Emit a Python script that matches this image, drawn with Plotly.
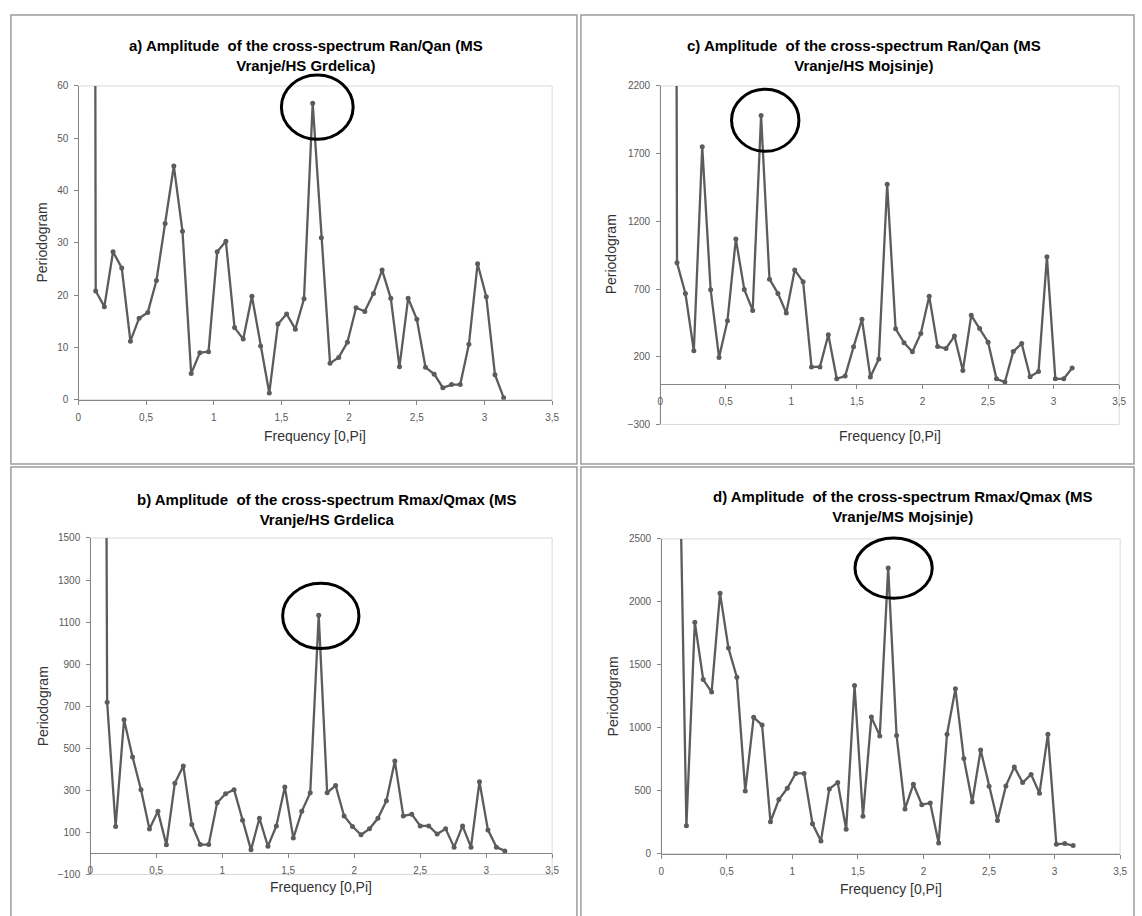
import plotly.graph_objects as go

W, H = 1142, 916

# Frequency grid k*pi/49, k = 1..49
freq = [0.0641, 0.1282, 0.1923, 0.2565, 0.3206, 0.3847, 0.4488, 0.5129, 0.5770, 0.6411,
        0.7053, 0.7694, 0.8335, 0.8976, 0.9617, 1.0258, 1.0899, 1.1541, 1.2182, 1.2823,
        1.3464, 1.4105, 1.4746, 1.5387, 1.6029, 1.6670, 1.7311, 1.7952, 1.8593, 1.9234,
        1.9875, 2.0517, 2.1158, 2.1799, 2.2440, 2.3081, 2.3722, 2.4363, 2.5005, 2.5646,
        2.6287, 2.6928, 2.7569, 2.8210, 2.8851, 2.9493, 3.0134, 3.0775, 3.1416]

x_tick_vals = [0, 0.5, 1, 1.5, 2, 2.5, 3, 3.5]
x_tick_text = ["0", "0,5", "1", "1,5", "2", "2,5", "3", "3,5"]

# a) Ran/Qan  MS Vranje / HS Grdelica   (k = 1..49)
per_a = [1000, 20.8, 17.8, 28.3, 25.2, 11.2, 15.6, 16.7, 22.8, 33.7,
         44.7, 32.2, 5.0, 9.0, 9.2, 28.3, 30.3, 13.8, 11.6, 19.8,
         10.3, 1.3, 14.5, 16.4, 13.5, 19.3, 56.7, 31.0, 7.0, 8.1,
         11.0, 17.6, 16.9, 20.3, 24.8, 19.4, 6.3, 19.4, 15.4, 6.2,
         4.9, 2.3, 2.9, 2.9, 10.6, 26.0, 19.7, 4.8, 0.4]

# b) Rmax/Qmax  MS Vranje / HS Grdelica  (k = 1..49)
per_b = [12000, 719, 128, 636, 459, 303, 116, 200, 41, 334,
         416, 138, 42, 42, 241, 284, 303, 158, 17, 167,
         34, 131, 316, 73, 200, 289, 1133, 289, 323, 178,
         128, 89, 117, 167, 250, 439, 178, 186, 131, 131,
         92, 117, 30, 131, 30, 341, 112, 30, 12]

# c) Ran/Qan  MS Vranje / HS Mojsinje  (k = 1..49)
per_c = [30000, 894, 668, 244, 1751, 695, 195, 465, 1069, 697,
         542, 1982, 773, 668, 523, 841, 753, 125, 125, 363,
         37, 57, 273, 477, 50, 183, 1474, 406, 304, 236,
         372, 647, 275, 261, 353, 98, 506, 409, 307, 37,
         13, 239, 297, 52, 91, 938, 37, 37, 117]

# d) Rmax/Qmax  MS Vranje / MS Mojsinje  (k = 2..49)
per_d = [3900, 222, 1838, 1383, 1284, 2068, 1634, 1402, 499,
         1083, 1022, 254, 431, 520, 638, 638, 238, 102, 515,
         565, 194, 1336, 298, 1085, 936, 2270, 939, 356, 552,
         390, 403, 86, 949, 1310, 756, 411, 824, 536, 264,
         539, 688, 565, 630, 481, 949, 76, 81, 65]

titles = {
    "a": "a) Amplitude\u00a0 of the cross-spectrum Ran/Qan (MS<br>Vranje/HS Grdelica)",
    "b": "b) Amplitude\u00a0 of the cross-spectrum Rmax/Qmax (MS<br>Vranje/HS Grdelica",
    "c": "c) Amplitude\u00a0 of the cross-spectrum Ran/Qan (MS<br>Vranje/HS Mojsinje)",
    "d": "d) Amplitude\u00a0 of the cross-spectrum Rmax/Qmax (MS<br>Vranje/MS Mojsinje)",
}

# highlighted-peak ellipses (data coordinates: x0, x1, y0, y1)
ellipses = {
    "a": [1.50, 2.03, 49.8, 62.1],
    "b": [1.458, 2.036, 974, 1284],
    "c": [0.544, 1.058, 1717, 2176],
    "d": [1.478, 2.067, 2029, 2508],
}

panels = [
    # key, x data, y data, yrange, dtick, plot box px (l, r, t, b), panel box px, title centre, ytitle centre, xtitle centre
    dict(key="a", x=freq, y=per_a, yr=[0, 60], dt=10, box=(76, 554, 81, 399),
         frame=(8, 579, 9, 464), tc=(306, 50), yt=(39, 240), xt=(315, 436)),
    dict(key="c", x=freq, y=per_c, yr=[-300, 2200], dt=500, box=(663, 1126, 81, 424),
         frame=(583, 1141, 9, 464), tc=(869, 50), yt=(613, 252), xt=(895, 436)),
    dict(key="b", x=freq, y=per_b, yr=[-100, 1500], dt=200, box=(88, 554, 539, 880),
         frame=(8, 579, 467, 930), tc=(327, 510), yt=(40, 710), xt=(321, 893)),
    dict(key="d", x=freq[1:], y=per_d, yr=[0, 2500], dt=500, box=(664, 1127, 540, 859),
         frame=(583, 1141, 467, 930), tc=(908, 507), yt=(615, 700), xt=(896, 895)),
]

LINE_COL = "#5c5c5c"
AXIS_COL = "#868686"
TICK_FONT = dict(family="Liberation Sans, Arial", size=10, color="#595959")

fig = go.Figure()
shapes = []
annotations = []


def px_x(px):
    return px / W


def px_y(py):
    return 1 - py / H


for i, p in enumerate(panels, start=1):
    l, r, t, b = p["box"]
    xd = [px_x(l), px_x(r)]
    yd = [px_y(b), px_y(t)]
    ymin, ymax = p["yr"]
    xmin, xmax = 0, 3.5

    def dx(v, xd=xd):
        return xd[0] + (v - xmin) / (xmax - xmin) * (xd[1] - xd[0])

    def dy(v, yd=yd, ymin=ymin, ymax=ymax):
        return yd[0] + (v - ymin) / (ymax - ymin) * (yd[1] - yd[0])

    sfx = "" if i == 1 else str(i)
    fig.add_trace(go.Scatter(
        x=p["x"], y=p["y"], mode="lines+markers",
        xaxis="x" + sfx, yaxis="y" + sfx,
        line=dict(color=LINE_COL, width=2.3),
        marker=dict(color=LINE_COL, size=5),
        showlegend=False, hoverinfo="x+y",
    ))

    fig.layout["xaxis" + sfx] = dict(
        domain=xd, range=[xmin, xmax], anchor="free", position=dy(0),
        tickvals=x_tick_vals, ticktext=x_tick_text, tickfont=TICK_FONT,
        showline=True, linecolor=AXIS_COL, linewidth=1,
        ticks="outside", ticklen=4, tickcolor=AXIS_COL, tickwidth=1,
        ticklabelstandoff=4,
        showgrid=False, zeroline=False, fixedrange=True,
    )
    fig.layout["yaxis" + sfx] = dict(
        domain=yd, range=[ymin, ymax], anchor="free", position=xd[0],
        tick0=ymin, dtick=p["dt"], tickfont=TICK_FONT,
        showline=True, linecolor=AXIS_COL, linewidth=1,
        ticks="outside", ticklen=4, tickcolor=AXIS_COL, tickwidth=1,
        ticklabelstandoff=4,
        showgrid=False, zeroline=False, fixedrange=True,
    )

    # plot-area border
    shapes.append(dict(type="rect", xref="paper", yref="paper",
                       x0=xd[0], x1=xd[1], y0=yd[0], y1=yd[1],
                       line=dict(color="#d9d9d9", width=1), layer="below"))
    # chart frame
    fl, fr, ft, fb = p["frame"]
    shapes.append(dict(type="rect", xref="paper", yref="paper",
                       x0=px_x(fl), x1=px_x(fr), y0=px_y(fb), y1=px_y(ft),
                       line=dict(color="#9c9c9c", width=1.5), layer="below"))
    # ellipse around the dominant peak
    ex0, ex1, ey0, ey1 = ellipses[p["key"]]
    shapes.append(dict(type="circle", xref="paper", yref="paper",
                       x0=dx(ex0), x1=dx(ex1), y0=dy(ey0), y1=dy(ey1),
                       line=dict(color="black", width=3), layer="above"))

    annotations.append(dict(
        text="<b>" + titles[p["key"]] + "</b>", xref="paper", yref="paper",
        x=px_x(p["tc"][0]), y=px_y(p["tc"][1]), xanchor="center", yanchor="middle",
        showarrow=False, align="center",
        font=dict(family="Liberation Sans, Arial", size=15, color="black")))
    annotations.append(dict(
        text="Periodogram", xref="paper", yref="paper", textangle=-90,
        x=px_x(p["yt"][0]), y=px_y(p["yt"][1]), xanchor="center", yanchor="middle",
        showarrow=False,
        font=dict(family="Liberation Sans, Arial", size=14, color="#333333")))
    annotations.append(dict(
        text="Frequency [0,Pi]", xref="paper", yref="paper",
        x=px_x(p["xt"][0]), y=px_y(p["xt"][1]), xanchor="center", yanchor="middle",
        showarrow=False,
        font=dict(family="Liberation Sans, Arial", size=14, color="#333333")))

fig.update_layout(
    width=W, height=H, margin=dict(l=0, r=0, t=0, b=0),
    paper_bgcolor="white", plot_bgcolor="white",
    shapes=shapes, annotations=annotations, showlegend=False,
)

fig.write_html("out.html")
